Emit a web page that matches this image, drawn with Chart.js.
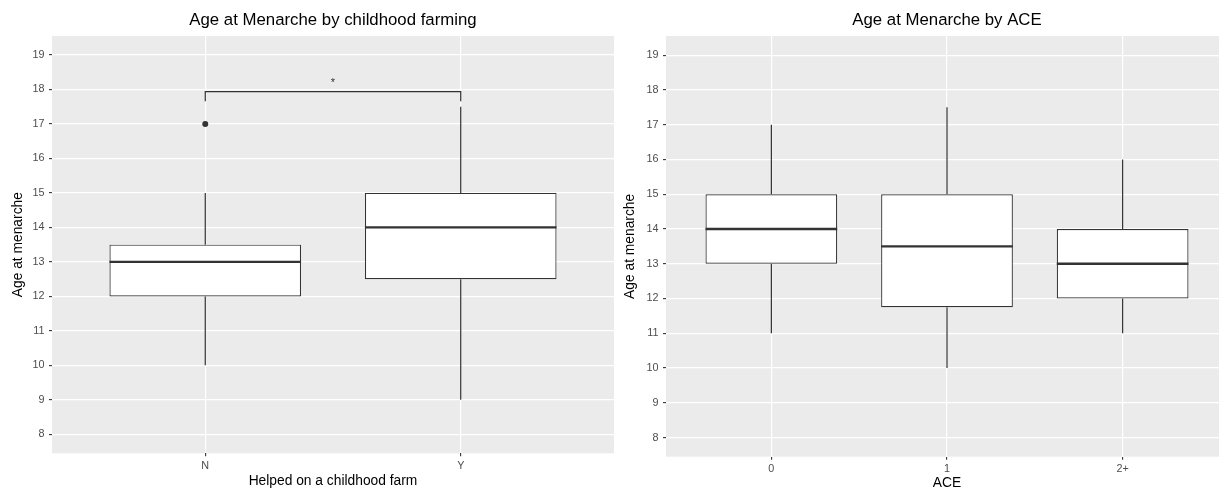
<!DOCTYPE html>
<html>
<head>
<meta charset="utf-8">
<title>Age at Menarche</title>
<script src="https://cdn.jsdelivr.net/npm/chart.js@4.4.1/dist/chart.umd.min.js"></script>
<style>
  html, body { margin: 0; padding: 0; background: #fff; overflow: hidden; }
  #wrap { position: relative; width: 1219px; height: 489px; overflow: hidden; }
  canvas { position: absolute; top: 0; }
  #farm { left: 0; }
  #ace { left: 620px; }
</style>
</head>
<body>
<div id="wrap">
  <canvas id="farm" width="618" height="489"></canvas>
  <canvas id="ace" width="608" height="489"></canvas>
</div>
<script>
// -----------------------------------------------------------------------------
// Data
// -----------------------------------------------------------------------------

const ageTicks = [8, 9, 10, 11, 12, 13, 14, 15, 16, 17, 18, 19];

// Panel 1: helped on a childhood farm
const farmGroups = ['N', 'Y'];
const farmLow = [10, 9];
const farmQ1 = [12, 12.5];
const farmMedian = [13, 14];
const farmQ3 = [13.5, 15];
const farmHigh = [15, 17.5];
const farmOutlierGroup = ['N'];
const farmOutlierValue = [17];
const farmBracketGroups = ['N', 'Y'];
const farmBracketTop = 17.94;
const farmBracketFoot = 17.66;
const farmBracketLabel = '*';
const farmBracketLabelY = 18.2;

// Panel 2: ACE
const aceGroups = ['0', '1', '2+'];
const aceLow = [11, 10, 11];
const aceQ1 = [13, 11.75, 12];
const aceMedian = [14, 13.5, 13];
const aceQ3 = [15, 15, 14];
const aceHigh = [17, 17.5, 16];

// -----------------------------------------------------------------------------
// Look
// -----------------------------------------------------------------------------

const INK = '#333333';
const PANEL = '#EBEBEB';
Chart.defaults.font.family = '"Liberation Sans", Arial, Helvetica, sans-serif';

// grey ggplot panel behind the grid
const panelPlugin = {
  id: 'panel',
  beforeDraw(chart) {
    const a = chart.chartArea;
    const ctx = chart.ctx;
    ctx.save();
    ctx.fillStyle = PANEL;
    ctx.fillRect(a.left, a.top, a.right - a.left, a.bottom - a.top);
    ctx.restore();
  },
};

// whiskers under the boxes, medians + bracket label on top
const boxPartsPlugin = {
  id: 'boxParts',
  beforeDatasetsDraw(chart, args, opts) {
    const xs = chart.scales.x;
    const ys = chart.scales.y;
    const ctx = chart.ctx;
    ctx.save();
    ctx.strokeStyle = INK;
    ctx.lineWidth = 1.2;
    opts.low.forEach((lo, i) => {
      const px = xs.getPixelForValue(i + 1);
      ctx.beginPath();
      ctx.moveTo(px, ys.getPixelForValue(lo));
      ctx.lineTo(px, ys.getPixelForValue(opts.q1[i]));
      ctx.moveTo(px, ys.getPixelForValue(opts.q3[i]));
      ctx.lineTo(px, ys.getPixelForValue(opts.high[i]));
      ctx.stroke();
    });
    ctx.restore();
  },
  afterDatasetsDraw(chart, args, opts) {
    const ys = chart.scales.y;
    const xs = chart.scales.x;
    const ctx = chart.ctx;
    const bars = chart.getDatasetMeta(0).data;
    ctx.save();
    ctx.strokeStyle = INK;
    ctx.lineWidth = 2.4;
    opts.median.forEach((m, i) => {
      const bar = bars[i];
      const py = ys.getPixelForValue(m);
      ctx.beginPath();
      ctx.moveTo(bar.x - bar.width / 2, py);
      ctx.lineTo(bar.x + bar.width / 2, py);
      ctx.stroke();
    });
    if (opts.label) {
      ctx.fillStyle = INK;
      ctx.font = '11px ' + Chart.defaults.font.family;
      ctx.textAlign = 'center';
      ctx.textBaseline = 'middle';
      ctx.fillText(opts.label, xs.getPixelForValue(opts.labelX), ys.getPixelForValue(opts.labelY));
    }
    ctx.restore();
  },
};

function tickFont() { return { size: 10.8 }; }

function boxChart(canvasId, s) {
  const xs = s.groups.map((g, i) => i + 1);
  const pos = (g) => s.groups.indexOf(g) + 1;

  const datasets = [{
    type: 'bar',
    data: xs.map((x, i) => ({ x, y: [s.q1[i], s.q3[i]] })),
    backgroundColor: '#ffffff',
    borderColor: INK,
    borderWidth: 1.2,
    borderSkipped: false,
    barPercentage: 0.75,
    categoryPercentage: 1,
  }];

  if (s.outlierValue) {
    datasets.push({
      type: 'scatter',
      data: s.outlierGroup.map((g, i) => ({ x: pos(g), y: s.outlierValue[i] })),
      pointRadius: 3,
      backgroundColor: INK,
      borderWidth: 0,
    });
  }

  let label = null;
  let labelX = null;
  if (s.bracketGroups) {
    const [a, b] = s.bracketGroups.map(pos);
    datasets.push({
      type: 'line',
      data: [
        { x: a, y: s.bracketFoot },
        { x: a, y: s.bracketTop },
        { x: b, y: s.bracketTop },
        { x: b, y: s.bracketFoot },
      ],
      borderColor: INK,
      borderWidth: 1.2,
      pointRadius: 0,
      fill: false,
      tension: 0,
    });
    label = s.bracketLabel;
    labelX = (a + b) / 2;
  }

  return new Chart(document.getElementById(canvasId), {
    type: 'bar',
    data: { datasets },
    plugins: [panelPlugin, boxPartsPlugin],
    options: {
      responsive: false,
      animation: false,
      events: [],
      layout: { padding: 0 },
      plugins: {
        legend: { display: false },
        tooltip: { enabled: false },
        title: {
          display: true,
          text: s.title,
          color: '#000',
          font: { size: 16.8, weight: 'normal' },
          padding: { top: 10.4, bottom: 5.44 },
          fullSize: false,
        },
        boxParts: {
          low: s.low, q1: s.q1, q3: s.q3, high: s.high, median: s.median,
          label, labelX, labelY: s.bracketLabelY,
        },
      },
      scales: {
        x: {
          type: 'linear',
          offset: false,
          min: 0.4,
          max: s.groups.length + 0.6,
          afterBuildTicks: (sc) => { sc.ticks = xs.map((v) => ({ value: v })); },
          afterFit: (sc) => { sc.height = s.xAxisHeight; sc.paddingLeft = 0; sc.paddingRight = 0; },
          ticks: {
            callback: (v) => s.groups[Math.round(v) - 1] ?? '',
            color: '#4D4D4D',
            font: tickFont(),
            padding: 3,
            autoSkip: false,
            maxRotation: 0,
          },
          grid: { offset: false, color: '#ffffff', lineWidth: 1.2, tickColor: INK, tickLength: 3, tickWidth: 1.1 },
          border: { display: false },
          title: {
            display: true,
            text: s.xTitle,
            color: '#000',
            font: { size: 13.8 },
            padding: { top: 0, bottom: s.xTitlePad },
          },
        },
        y: {
          type: 'linear',
          min: 7.45,
          max: 19.55,
          afterBuildTicks: (sc) => { sc.ticks = ageTicks.map((v) => ({ value: v })); },
          afterFit: (sc) => { sc.width = s.yAxisWidth; },
          ticks: {
            color: '#4D4D4D',
            font: tickFont(),
            padding: 4.5,
          },
          grid: { color: '#ffffff', lineWidth: 1.2, tickColor: INK, tickLength: 3, tickWidth: 1.1 },
          border: { display: false },
          title: {
            display: true,
            text: 'Age at menarche',
            color: '#000',
            font: { size: 13.8 },
            padding: { top: s.yTitlePad, bottom: 0 },
          },
        },
      },
    },
  });
}

boxChart('farm', {
  title: 'Age at Menarche by childhood farming',
  xTitle: 'Helped on a childhood farm',
  groups: farmGroups,
  low: farmLow, q1: farmQ1, median: farmMedian, q3: farmQ3, high: farmHigh,
  outlierGroup: farmOutlierGroup, outlierValue: farmOutlierValue,
  bracketGroups: farmBracketGroups,
  bracketTop: farmBracketTop, bracketFoot: farmBracketFoot,
  bracketLabel: farmBracketLabel, bracketLabelY: farmBracketLabelY,
  yAxisWidth: 52, xAxisHeight: 35.7, yTitlePad: 10.2, xTitlePad: 0,
});

boxChart('ace', {
  title: 'Age at Menarche by ACE',
  xTitle: 'ACE',
  groups: aceGroups,
  low: aceLow, q1: aceQ1, median: aceMedian, q3: aceQ3, high: aceHigh,
  yAxisWidth: 46, xAxisHeight: 32.3, yTitlePad: 1.7, xTitlePad: -2,
});
</script>
</body>
</html>
